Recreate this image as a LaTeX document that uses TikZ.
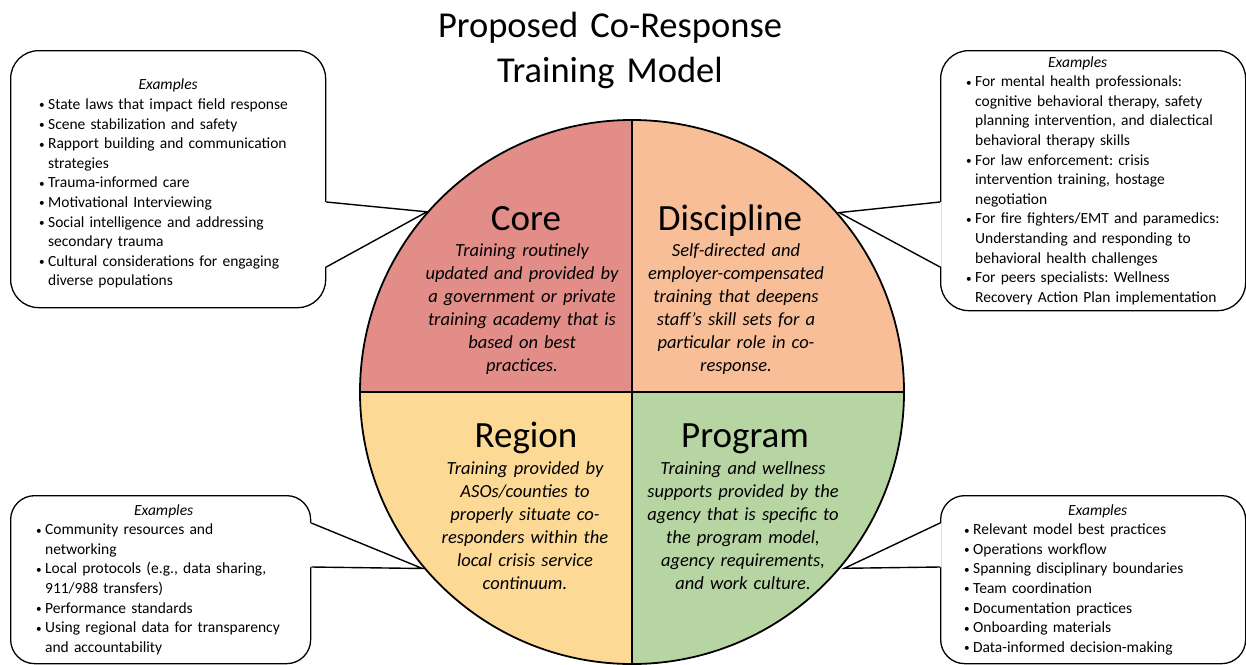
\documentclass[tikz,border=0pt]{standalone}
\usepackage{fontspec}
\setmainfont{Carlito}
\usepackage{xcolor}
\usetikzlibrary{calc}

\definecolor{corered}{RGB}{226,141,135}
\definecolor{discpeach}{RGB}{247,190,152}
\definecolor{regionyellow}{RGB}{253,217,150}
\definecolor{proggreen}{RGB}{183,213,163}

\newcommand{\exhead}[1][0pt]{{\centering\itshape\hspace*{#1}Examples\par}}
\newcommand{\exstart}[1]{\frenchspacing\leftskip=#1\relax\rightskip=-40pt plus 1fil\relax}
\newcommand{\exbul}{\makebox[9.5pt][l]{\hspace{0.5pt}\raisebox{0.6pt}{\scalebox{0.72}{\textbullet}}}}
\newcommand{\exitem}[1]{\par\hangindent=9.5pt\hangafter=1\noindent\exbul#1\par}

\begin{document}
\begin{tikzpicture}[x=1pt, y=-1pt,
  exbox/.style={draw, line width=1.3pt, rounded corners=28pt, fill=white, inner sep=0pt,
    anchor=north west, font=\fontsize{15.5}{19.6}\selectfont},
  quadhead/.style={anchor=base, font=\fontsize{37}{44}\selectfont},
  quadbody/.style={anchor=base, text width=240pt, align=center,
    font=\fontsize{18.5}{23}\selectfont\itshape},
  pointer/.style={line width=1.4pt, line join=miter},
  ring/.style={line width=1.8pt}]
\path[fill=white] (0,0) rectangle (1246,664);
\useasboundingbox (0,0) rectangle (1246,664);

% Title
\node[anchor=base, text width=440pt, align=center, font=\fontsize{36.5}{45}\selectfont]
  (title) at (610,37) {Proposed Co-Response\\Training Model};

% Example boxes
\node[exbox, minimum width=315pt, minimum height=257pt, text width=315pt] (excore) at (10,50) {%
  {\centering\itshape\rule{0pt}{20pt}Examples\par}\exstart{28pt}
  \exitem{State laws that impact field response}
  \exitem{Scene stabilization and safety}
  \exitem{Rapport building and communication\newline strategies}
  \exitem{Trauma-informed care}
  \exitem{Motivational Interviewing}
  \exitem{Social intelligence and addressing\newline secondary trauma}
  \exitem{Cultural considerations for engaging\newline diverse populations}};

\node[exbox, minimum width=305pt, minimum height=260pt, text width=305pt] (exdisc) at (940,50) {%
  \exhead[-31pt]\exstart{25pt}
  \exitem{For mental health professionals:\newline cognitive behavioral therapy, safety\newline planning intervention, and dialectical\newline behavioral therapy skills}
  \exitem{For law enforcement: crisis\newline intervention training, hostage\newline negotiation}
  \exitem{For fire fighters/EMT and paramedics:\newline Understanding and responding to\newline behavioral health challenges}
  \exitem{For peers specialists: Wellness\newline Recovery Action Plan implementation}};

\node[exbox, rounded corners=24pt, minimum width=300pt, minimum height=168pt, text width=300pt] (exregion) at (10,495) {%
  \exhead[6pt]\exstart{25pt}
  \exitem{Community resources and\newline networking}
  \exitem{Local protocols (e.g., data sharing,\newline 911/988 transfers)}
  \exitem{Performance standards}
  \exitem{Using regional data for transparency\newline and accountability}};

\node[exbox, rounded corners=24pt, minimum width=305pt, minimum height=168pt, text width=305pt] (exprog) at (940,495) {%
  \exhead[9pt]\exstart{23pt}
  \exitem{Relevant model best practices}
  \exitem{Operations workflow}
  \exitem{Spanning disciplinary boundaries}
  \exitem{Team coordination}
  \exitem{Documentation practices}
  \exitem{Onboarding materials}
  \exitem{Data-informed decision-making}};

% Callout pointers to the circle
\coordinate (ctr) at (632,392);
\coordinate (tipcore) at ($(ctr)+(221.3:273)$);
\coordinate (tipdisc) at ($(ctr)+(319.1:274)$);
\coordinate (tipregion) at ($(ctr)+(139.9:274)$);
\coordinate (tipprog) at ($(ctr)+(39.7:276)$);

\fill[white] ($(excore.north east)+(-1.5,152)$) -- (tipcore) -- ($(excore.north east)+(-1.5,217)$) -- cycle;
\draw[pointer] ($(excore.north east)+(0,152)$) -- (tipcore) -- ($(excore.north east)+(0,217)$);

\fill[white] ($(exdisc.north west)+(1.5,152)$) -- (tipdisc) -- ($(exdisc.north west)+(1.5,217)$) -- cycle;
\draw[pointer] ($(exdisc.north west)+(0,152)$) -- (tipdisc) -- ($(exdisc.north west)+(0,217)$);

\fill[white] ($(exregion.north east)+(-1.5,28)$) -- (tipregion) -- ($(exregion.north east)+(-1.5,72)$) -- cycle;
\draw[pointer] ($(exregion.north east)+(0,28)$) -- (tipregion) -- ($(exregion.north east)+(0,72)$);

\fill[white] ($(exprog.north west)+(1.5,28)$) -- (tipprog) -- ($(exprog.north west)+(1.5,72)$) -- cycle;
\draw[pointer] ($(exprog.north west)+(0,28)$) -- (tipprog) -- ($(exprog.north west)+(0,72)$);

% The four quadrants
\begin{scope}
\clip (ctr) circle (272);
\fill[corered] (ctr) rectangle ++(-280,-280);
\fill[discpeach] (ctr) rectangle ++(280,-280);
\fill[regionyellow] (ctr) rectangle ++(-280,280);
\fill[proggreen] (ctr) rectangle ++(280,280);
\end{scope}
\draw[ring] (ctr) circle (272);
\draw[ring] ($(ctr)+(270:272)$) -- ($(ctr)+(90:272)$);
\draw[ring] ($(ctr)+(180:272)$) -- ($(ctr)+(0:272)$);

\node[quadhead] (corehd) at (526,230) {Core};
\node[quadbody] (coretx) at (522,256) {Training routinely\\updated and provided by\\a government or private\\training academy that is\\based on best\\practices.};

\node[quadhead] (dischd) at (730,230) {Discipline};
\node[quadbody] (disctx) at (736,256) {Self-directed and\\employer-compensated\\training that deepens\\staff’s skill sets for a\\particular role in co-\\response.};

\node[quadhead] (reghd) at (526,447) {Region};
\node[quadbody] (regtx) at (525,474) {Training provided by\\ASOs/counties to\\properly situate co-\\responders within the\\local crisis service\\continuum.};

\node[quadhead] (proghd) at (745,447) {Program};
\node[quadbody] (progtx) at (743,474) {Training and wellness\\supports provided by the\\agency that is specific to\\the program model,\\agency requirements,\\and work culture.};
\end{tikzpicture}
\end{document}
